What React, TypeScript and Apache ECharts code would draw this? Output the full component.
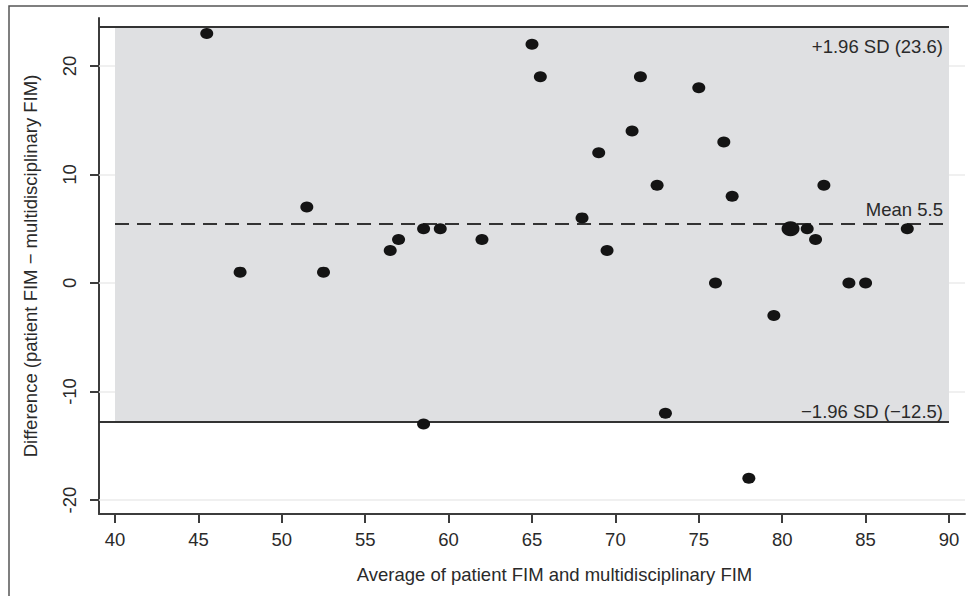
import { useEffect, useRef } from "react";
import * as echarts from "echarts";

// Bland–Altman data: average of the two FIM scores (x) and their difference (y)
const xAvg = [45.5, 47.5, 51.5, 52.5, 56.5, 57, 58.5, 58.5, 59.5, 62, 65, 65.5, 68, 69, 69.5, 71, 71.5, 72.5, 73, 75, 76, 76.5, 77, 78, 79.5, 80.5, 81.5, 82, 82.5, 84, 85, 87.5];
const yDiff = [23, 1, 7, 1, 3, 4, 5, -13, 5, 4, 22, 19, 6, 12, 3, 14, 19, 9, -12, 18, 0, 13, 8, -18, -3, 5, 5, 4, 9, 0, 0, 5];
const overlapCount = [1, 1, 1, 1, 1, 1, 1, 1, 1, 1, 1, 1, 1, 1, 1, 1, 1, 1, 1, 1, 1, 1, 1, 1, 1, 2, 1, 1, 1, 1, 1, 1];

const xTicks = [40, 45, 50, 55, 60, 65, 70, 75, 80, 85, 90];
const yTicks = [-20, -10, 0, 10, 20];

const meanDiff = 5.5;
const upperLoA = 23.6;
const lowerLoA = -12.75;
const upperLabel = "+1.96 SD (23.6)";
const meanLabel = "Mean 5.5";
const lowerLabel = "\u22121.96 SD (\u221212.5)";

const xRange = [39.04, 90.96];
const yRange = [-21.29, 24.42];
const bandRange = [40, 90];

const FONT = "'Liberation Sans', Arial, Helvetica, sans-serif";
const TXT = "#2a2a2a";
const AX = "#3c3c3c";

export default function App() {
  const ref = useRef<HTMLDivElement>(null);
  useEffect(() => {
    if (!ref.current) return;
    const chart = echarts.init(ref.current, undefined, { renderer: "svg" });
    const labelStyle = { fontSize: 18.5, color: TXT, fontFamily: FONT };
    chart.setOption({
      animation: false,
      backgroundColor: "#ffffff",
      textStyle: { fontFamily: FONT },
      grid: { left: 99, top: 18, right: 3, bottom: 82, containLabel: false },
      graphic: [
        {
          type: "rect",
          z: 0,
          silent: true,
          shape: { x: 9, y: 6, width: 1200, height: 1200 },
          style: { fill: "none", stroke: "#555", lineWidth: 1.5 },
        },
      ],
      xAxis: {
        type: "value",
        min: xRange[0],
        max: xRange[1],
        axisLine: { show: true, onZero: false, lineStyle: { color: AX, width: 2 } },
        axisTick: { show: true, length: 9, customValues: xTicks, lineStyle: { color: AX, width: 2 } },
        axisLabel: { ...labelStyle, customValues: xTicks, margin: 16 },
        splitLine: { show: false },
        name: "Average of patient FIM and multidisciplinary FIM",
        nameLocation: "middle",
        nameGap: 51,
        nameTextStyle: { ...labelStyle, padding: [0, 0, 0, 45] },
      },
      yAxis: {
        type: "value",
        min: yRange[0],
        max: yRange[1],
        axisLine: { show: true, onZero: false, lineStyle: { color: AX, width: 2 } },
        axisTick: { show: true, length: 9, customValues: yTicks, lineStyle: { color: AX, width: 2 } },
        axisLabel: { ...labelStyle, customValues: yTicks, rotate: 90, margin: 20 },
        splitLine: { show: false },
        name: "Difference (patient FIM \u2212 multidisciplinary FIM)",
        nameLocation: "middle",
        nameGap: 59,
        nameTextStyle: labelStyle,
      },
      series: [
        {
          type: "line",
          data: [],
          silent: true,
          markLine: {
            z: 1,
            silent: true,
            symbol: "none",
            label: { show: false },
            lineStyle: { color: "#ebebeb", width: 1.5, type: "solid" },
            data: yTicks.map((v) => ({ yAxis: v })),
          },
        },
        {
          type: "line",
          data: [],
          silent: true,
          markArea: {
            z: 2,
            silent: true,
            itemStyle: { color: "#dfe0e2" },
            data: [[{ coord: [bandRange[0], lowerLoA] }, { coord: [bandRange[1], upperLoA] }]],
          },
        },
        {
          type: "line",
          data: [],
          silent: true,
          markLine: {
            z: 3,
            silent: true,
            symbol: "none",
            lineStyle: { color: "#333", width: 2, type: "solid" },
            label: { ...labelStyle, show: true },
            data: [
              [
                {
                  coord: [xRange[0], upperLoA],
                  label: { formatter: upperLabel, position: "insideEndBottom", distance: [6, 10] },
                },
                { coord: [bandRange[1], upperLoA] },
              ],
              [
                {
                  coord: [bandRange[0], meanDiff],
                  lineStyle: { type: [14, 8], width: 2, color: "#333" },
                  label: { formatter: meanLabel, position: "insideEndTop", distance: [6, 4] },
                },
                { coord: [bandRange[1], meanDiff] },
              ],
              [
                {
                  coord: [xRange[0], lowerLoA],
                  label: { formatter: lowerLabel, position: "insideEndTop", distance: [6, 0] },
                },
                { coord: [bandRange[1], lowerLoA] },
              ],
            ],
          },
        },
        {
          type: "scatter",
          z: 4,
          data: xAvg.map((x, i) => [x, yDiff[i]]),
          symbol: "circle",
          symbolSize: (_v: any, p: any) => (overlapCount[p.dataIndex] > 1 ? [18, 15] : [13, 11]),
          itemStyle: { color: "#141414", opacity: 1 },
        },
      ],
    });
    return () => chart.dispose();
  }, []);
  return (
    <div
      ref={ref}
      style={{ position: "fixed", left: 0, top: 0, width: 968, height: 596, background: "#fff" }}
    />
  );
}
